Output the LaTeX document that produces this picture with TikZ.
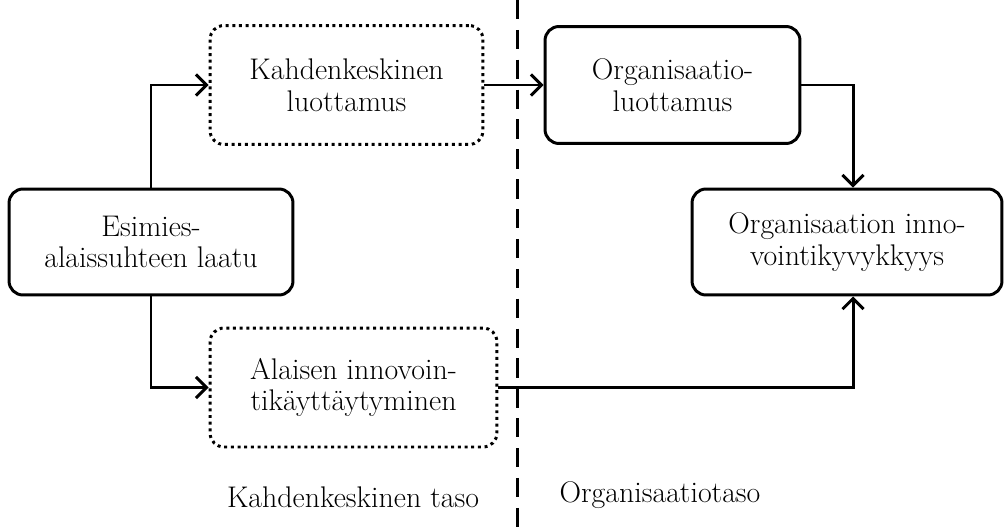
\documentclass[tikz,border=0pt]{standalone}
\usetikzlibrary{arrows.meta}
\begin{document}
\begin{tikzpicture}[x=0.02cm, y=-0.02cm,
    every node/.style={font=\fontsize{17}{18}\selectfont, align=center, inner sep=2pt},
    solidbox/.style={draw, line width=1.7pt, rounded corners=0.28cm},
    dottedbox/.style={draw, line width=1.7pt, rounded corners=0.28cm, dash pattern=on 1.7pt off 2.1pt},
    arr/.style={line width=1.7pt, -{Straight Barb[length=6pt, width=12pt, line width=1.7pt]}},
    divider/.style={line width=1.7pt, dash pattern=on 11pt off 6pt}]
			\useasboundingbox (0,0) rectangle (1006,527);

			\coordinate (divtop) at (517,0);
			\coordinate (divbot) at (517,527);
			\draw[divider] (divtop) -- (divbot);

			\node[dottedbox, minimum width=5.46cm, minimum height=2.38cm] (kahden) at (346.5,85) {Kahdenkeskinen\\luottamus};
			\node[solidbox, minimum width=5.1cm, minimum height=2.34cm] (orgluott) at (672.5,85) {Organisaatio-\\luottamus};
			\node[solidbox, minimum width=5.68cm, minimum height=2.12cm] (esimies) at (151,242) {Esimies-\\alaissuhteen laatu};
			\node[dottedbox, minimum width=5.74cm, minimum height=2.38cm] (alaisen) at (353.5,387.5) {Alaisen innovoin-\\tikäyttäytyminen};
			\node[solidbox, minimum width=6.2cm, minimum height=2.12cm] (orginno) at (847,242) {Organisaation inno-\\vointikyvykkyys};

			\node (dyadlabel) at (353,497) {Kahdenkeskinen taso};
			\node (orglabel) at (660,495) {Organisaatiotaso};

			\draw[arr] (esimies.north) |- (kahden.west);
			\draw[arr] (esimies.south) |- (alaisen.west);
			\draw[arr] (kahden.east) -- (orgluott.west);
			\draw[arr] (orgluott.east) -| ([xshift=0.12cm]orginno.north);
			\draw[arr] (alaisen.east) -| ([xshift=0.12cm]orginno.south);
		\end{tikzpicture}
\end{document}
